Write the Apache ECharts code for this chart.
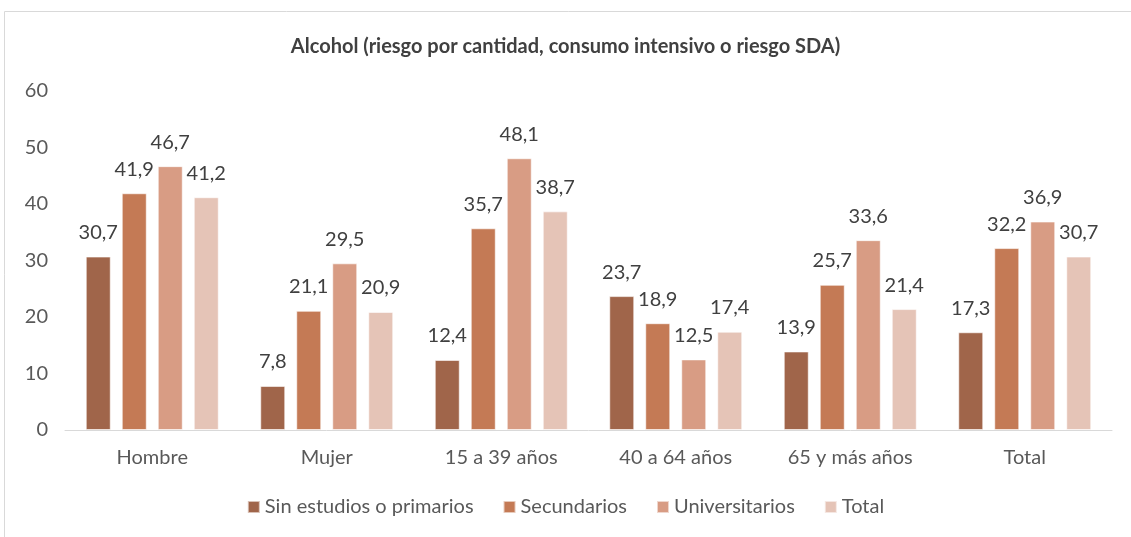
<!DOCTYPE html>
<html>
<head>
<meta charset="utf-8">
<script src="https://cdn.jsdelivr.net/npm/echarts@6/dist/echarts.min.js"></script>
<style>
    html, body { margin: 0; padding: 0; background: #ffffff; }
    #chart { width: 1131px; height: 537px; }
</style>
</head>
<body>
<div id="chart"></div>
<script>
const categories = ['Hombre', 'Mujer', '15 a 39 años', '40 a 64 años', '65 y más años', 'Total'];
const seriesNames = ['Sin estudios o primarios', 'Secundarios', 'Universitarios', 'Total'];
const sinEstudios = [30.7, 7.8, 12.4, 23.7, 13.9, 17.3];
const secundarios = [41.9, 21.1, 35.7, 18.9, 25.7, 32.2];
const universitarios = [46.7, 29.5, 48.1, 12.5, 33.6, 36.9];
const total = [41.2, 20.9, 38.7, 17.4, 21.4, 30.7];
const colors = ['#A0654A', '#C47A55', '#D89C84', '#E5C4B7'];

const font = 'Lato, "Open Sans", sans-serif';
const fmt = v => String(v.value).replace('.', ',');

const makeSeries = (name, data, color) => ({
    name: name,
    type: 'bar',
    data: data,
    barWidth: 25,
    barGap: '44%',
    itemStyle: { color: color, borderColor: 'rgba(255,255,255,0.6)', borderWidth: 1 },
    label: {
        show: true,
        position: 'top',
        distance: 14,
        color: '#404040',
        fontFamily: font,
        fontSize: 20,
        formatter: fmt
    }
});

const chart = echarts.init(document.getElementById('chart'));
chart.setOption({
    animation: false,
    graphic: [{
        type: 'rect',
        shape: { x: 4.5, y: 11.5, width: 1140, height: 540 },
        style: { fill: 'none', stroke: '#D9D9D9', lineWidth: 1 },
        silent: true
    }],
    title: {
        text: 'Alcohol (riesgo por cantidad, consumo intensivo o riesgo SDA)',
        left: 'center',
        top: 32,
        textStyle: { fontFamily: font, fontSize: 20, fontWeight: 'bold', color: '#404040' }
    },
    legend: {
        bottom: 15,
        left: 'center',
        itemWidth: 12,
        itemHeight: 12,
        itemGap: 29,
        icon: 'rect',
        textStyle: { fontFamily: font, fontSize: 20, color: '#595959' },
        data: seriesNames
    },
    grid: { left: 65, right: 19, top: 91, bottom: 107 },
    xAxis: {
        type: 'category',
        data: categories,
        axisLine: { lineStyle: { color: '#D9D9D9', width: 1 } },
        axisTick: { show: false },
        axisLabel: { color: '#595959', fontFamily: font, fontSize: 20, margin: 18 }
    },
    yAxis: {
        type: 'value',
        min: 0,
        max: 60,
        interval: 10,
        splitLine: { show: false },
        axisLine: { show: false },
        axisTick: { show: false },
        axisLabel: { color: '#595959', fontFamily: font, fontSize: 20, margin: 17 }
    },
    series: [
        makeSeries(seriesNames[0], sinEstudios, colors[0]),
        makeSeries(seriesNames[1], secundarios, colors[1]),
        makeSeries(seriesNames[2], universitarios, colors[2]),
        makeSeries(seriesNames[3], total, colors[3])
    ]
});
</script>
</body>
</html>
